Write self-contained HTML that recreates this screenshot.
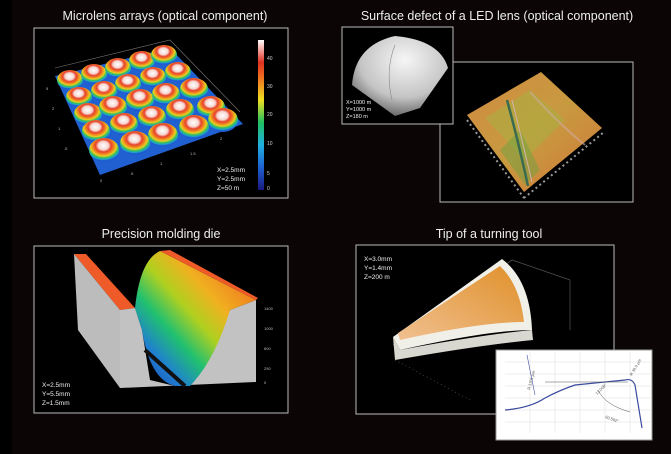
<!DOCTYPE html>
<html><head><meta charset="utf-8"><style>
html,body{margin:0;padding:0;background:#0b0505;}
svg{display:block}
text{font-family:"Liberation Sans",sans-serif;}
</style></head><body>
<svg width="671" height="454" viewBox="0 0 671 454" xmlns="http://www.w3.org/2000/svg">
<defs>
<radialGradient id="dome" cx="0.48" cy="0.32" r="0.62">
<stop offset="0" stop-color="#fff"/><stop offset="0.28" stop-color="#f6d6d0"/>
<stop offset="0.42" stop-color="#e8402a"/><stop offset="0.58" stop-color="#f08a20"/>
<stop offset="0.7" stop-color="#e8d020"/><stop offset="0.82" stop-color="#30c060"/>
<stop offset="0.93" stop-color="#20a0d0"/><stop offset="1" stop-color="#1e5ad0"/>
</radialGradient>
<linearGradient id="cbar" x1="0" y1="1" x2="0" y2="0">
<stop offset="0" stop-color="#1a1a80"/><stop offset="0.15" stop-color="#1e60d0"/>
<stop offset="0.3" stop-color="#20b0e0"/><stop offset="0.45" stop-color="#20c060"/>
<stop offset="0.6" stop-color="#f0e020"/><stop offset="0.75" stop-color="#f07020"/>
<stop offset="0.85" stop-color="#e03020"/><stop offset="1" stop-color="#ffffff"/>
</linearGradient>
<linearGradient id="chan" x1="0" y1="1" x2="1" y2="0">
<stop offset="0" stop-color="#1a3ab0"/><stop offset="0.2" stop-color="#2080d0"/>
<stop offset="0.35" stop-color="#20c070"/><stop offset="0.5" stop-color="#b0d020"/>
<stop offset="0.65" stop-color="#f0b020"/><stop offset="1" stop-color="#f05020"/>
</linearGradient>
<radialGradient id="white" cx="0.55" cy="0.3" r="0.85">
<stop offset="0" stop-color="#f6f6f6"/><stop offset="0.55" stop-color="#c4c4c4"/><stop offset="1" stop-color="#333"/>
</radialGradient>
<linearGradient id="tool" x1="0" y1="1" x2="1" y2="0">
<stop offset="0" stop-color="#f0c090"/><stop offset="1" stop-color="#e0902a"/>
</linearGradient>
<linearGradient id="led" x1="0" y1="0" x2="1" y2="1">
<stop offset="0" stop-color="#d08a40"/><stop offset="0.5" stop-color="#c89a40"/><stop offset="1" stop-color="#d07838"/>
</linearGradient>
</defs>
<rect width="671" height="454" fill="#0b0505"/>
<rect width="12" height="454" fill="#000"/>

<!-- Panel 1 -->
<text x="165" y="20" fill="#eee" font-size="12.5" text-anchor="middle">Microlens arrays (optical component)</text>
<rect x="34" y="28" width="254" height="170" fill="#000" stroke="#bbb" stroke-width="1"/>
<polygon points="55,76 170,48 243,124 100,175" fill="#2060d0"/>
<polyline points="55,68 170,40 240,112" fill="none" stroke="#777" stroke-width="0.6"/>
<g fill="url(#dome)">
<ellipse cx="70" cy="80" rx="13" ry="10"/><ellipse cx="94" cy="74" rx="13" ry="10"/><ellipse cx="118" cy="68" rx="13" ry="10"/><ellipse cx="142" cy="61" rx="13" ry="10"/><ellipse cx="164" cy="55" rx="13" ry="10"/>
<ellipse cx="79" cy="97" rx="13" ry="10"/><ellipse cx="104" cy="91" rx="13" ry="10"/><ellipse cx="128" cy="84" rx="13" ry="10"/><ellipse cx="153" cy="77" rx="13" ry="10"/><ellipse cx="178" cy="72" rx="13" ry="10"/>
<ellipse cx="88" cy="114" rx="14" ry="11"/><ellipse cx="113" cy="107" rx="14" ry="11"/><ellipse cx="140" cy="100" rx="14" ry="11"/><ellipse cx="166" cy="94" rx="14" ry="11"/><ellipse cx="194" cy="89" rx="14" ry="11"/>
<ellipse cx="96" cy="131" rx="14" ry="11"/><ellipse cx="124" cy="124" rx="14" ry="11"/><ellipse cx="152" cy="117" rx="14" ry="11"/><ellipse cx="180" cy="110" rx="14" ry="11"/><ellipse cx="211" cy="107" rx="14" ry="11"/>
<ellipse cx="104" cy="150" rx="15" ry="12"/><ellipse cx="135" cy="143" rx="15" ry="12"/><ellipse cx="163" cy="135" rx="15" ry="12"/><ellipse cx="194" cy="127" rx="15" ry="12"/><ellipse cx="223" cy="120" rx="15" ry="12"/>
</g>
<g fill="#bbb" font-size="4"><text x="46" y="90">5</text><text x="52" y="110">2</text><text x="58" y="130">1</text><text x="64" y="150">.5</text><text x="100" y="182">0</text><text x="130" y="175">.5</text><text x="160" y="165">1</text><text x="190" y="155">1.5</text><text x="220" y="140">2</text></g>
<rect x="258" y="40" width="6" height="150" fill="url(#cbar)"/>
<g fill="#ccc" font-size="5"><text x="267" y="60">40</text><text x="267" y="88">30</text><text x="267" y="116">20</text><text x="267" y="145">10</text><text x="267" y="175">5</text><text x="267" y="190">0</text></g>
<g fill="#eee" font-size="6.5"><text x="217" y="172">X=2.5mm</text><text x="217" y="181">Y=2.5mm</text><text x="217" y="190">Z=50 m</text></g>

<!-- Panel 2 -->
<text x="497" y="20" fill="#eee" font-size="12.5" text-anchor="middle">Surface defect of a LED lens (optical component)</text>
<rect x="440" y="62" width="193" height="140" fill="#000" stroke="#bbb"/>
<polygon points="467,115 541,72 602,128 524,192" fill="url(#led)"/>
<polygon points="485,118 530,90 565,120 525,160" fill="#a8b040" opacity="0.55"/>
<polygon points="500,150 520,130 540,170 525,185" fill="#70a040" opacity="0.5"/>
<path d="M507,100 Q518,140 528,186" stroke="#3a6a50" stroke-width="2.5" fill="none"/>
<path d="M512,100 Q522,140 532,182" stroke="#d8b0a8" stroke-width="1" fill="none"/>
<path d="M530,92 Q560,125 585,145" stroke="#d0a8a0" stroke-width="2" fill="none" opacity="0.6"/>
<path d="M467,120 L524,198" stroke="#999" stroke-width="2" stroke-dasharray="2,3"/>
<path d="M524,198 L604,132" stroke="#999" stroke-width="2" stroke-dasharray="2,3"/>
<rect x="342" y="27" width="111" height="97" fill="#000" stroke="#bbb"/>
<path d="M352,85 Q355,45 395,36 Q440,40 448,68 L420,108 L395,116 Z" fill="url(#white)"/>
<path d="M395,45 Q385,70 392,100" stroke="#888" stroke-width="0.6" fill="none"/>
<g fill="#eee" font-size="5.5"><text x="346" y="104">X=1000 m</text><text x="346" y="111">Y=1000 m</text><text x="346" y="118">Z=180 m</text></g>

<!-- Panel 3 -->
<text x="161" y="238" fill="#eee" font-size="12.5" text-anchor="middle">Precision molding die</text>
<rect x="34" y="246" width="254" height="167" fill="#000" stroke="#bbb"/>
<polygon points="74,254 86,254 135,308 120,310" fill="#ee5a28"/>
<polygon points="74,254 120,310 120,388 78,330" fill="#bcbcbc"/>
<polygon points="120,310 135,308 142,330 150,380 175,386 212,350 230,310 256,300 256,382 120,388" fill="#c2c2c2"/>
<path d="M135,308 Q140,260 160,251 L256,300 L230,310 Q215,360 190,386 L175,386 Q150,380 142,330 Z" fill="url(#chan)"/>
<polygon points="160,251 170,250 258,298 256,300" fill="#ee5a28"/>
<path d="M145,350 L185,386" stroke="#111" stroke-width="4"/>
<g fill="#bbb" font-size="4"><text x="264" y="310">1400</text><text x="264" y="330">1000</text><text x="264" y="350">600</text><text x="264" y="370">250</text><text x="264" y="384">0</text></g>
<g fill="#eee" font-size="6.5"><text x="42" y="387">X=2.5mm</text><text x="42" y="396">Y=5.5mm</text><text x="42" y="405">Z=1.5mm</text></g>

<!-- Panel 4 -->
<text x="489" y="238" fill="#eee" font-size="12.5" text-anchor="middle">Tip of a turning tool</text>
<rect x="356" y="245" width="258" height="169" fill="#000" stroke="#bbb"/>
<polyline points="393,345 512,260 570,280 570,330" fill="none" stroke="#666" stroke-width="0.6"/>
<path d="M393,337 L502,259 Q530,280 532,330 Q490,330 400,350 Z" fill="#f0f0e8"/>
<path d="M398,333 L500,266 Q520,285 524,322 Q480,322 400,340 Z" fill="url(#tool)"/>
<path d="M393,337 L400,350 Q480,335 532,330 L533,340 Q480,345 395,360 Z" fill="#d8d8d0"/>
<path d="M395,360 L470,400" stroke="#666" stroke-width="0.6" stroke-dasharray="1,3"/>
<g fill="#eee" font-size="6.5"><text x="364" y="261">X=3.0mm</text><text x="364" y="270">Y=1.4mm</text><text x="364" y="279">Z=200 m</text></g>
<rect x="496" y="350" width="156" height="90" fill="#fff" stroke="#999"/>
<g stroke="#ddd" stroke-width="0.5">
<line x1="505" y1="362" x2="650" y2="362"/><line x1="505" y1="374" x2="650" y2="374"/><line x1="505" y1="386" x2="650" y2="386"/><line x1="505" y1="398" x2="650" y2="398"/><line x1="505" y1="410" x2="650" y2="410"/><line x1="505" y1="422" x2="650" y2="422"/>
<line x1="530" y1="352" x2="530" y2="433"/><line x1="555" y1="352" x2="555" y2="433"/><line x1="580" y1="352" x2="580" y2="433"/><line x1="605" y1="352" x2="605" y2="433"/><line x1="630" y1="352" x2="630" y2="433"/>
</g>
<path d="M505,410 Q530,408 545,398 Q560,390 575,385 L625,380 Q632,378 635,385 L642,428" fill="none" stroke="#3a4aa0" stroke-width="1.2"/>
<path d="M527,355 L535,395" stroke="#3a4aa0" stroke-width="0.6"/>
<path d="M545,382 L628,382" stroke="#555" stroke-width="0.5"/>
<path d="M598,390 Q605,405 630,412" stroke="#555" stroke-width="0.5" fill="none"/>
<g fill="#555" font-size="4"><text x="530" y="390" transform="rotate(-75 530 390)">R 1701 µm</text><text x="597" y="395" transform="rotate(-45 597 395)">13.008°</text><text x="605" y="418" transform="rotate(20 605 418)">60.562°</text><text x="632" y="376" transform="rotate(-60 632 376)">R 39.9 µm</text></g>
</svg>
</body></html>
